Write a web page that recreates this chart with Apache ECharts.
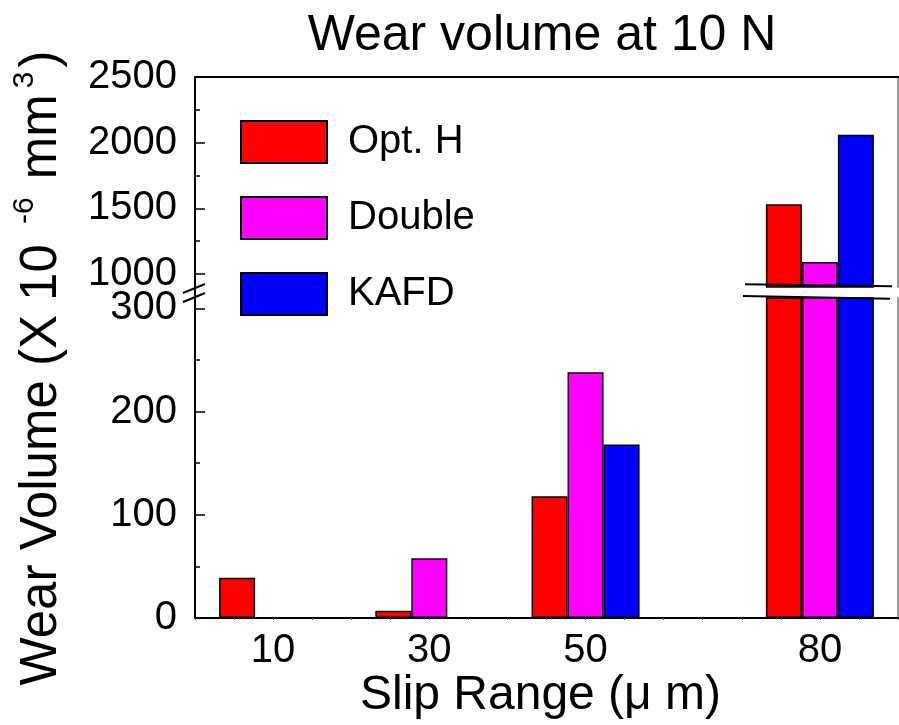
<!DOCTYPE html>
<html>
<head>
<meta charset="utf-8">
<script src="https://cdn.jsdelivr.net/npm/echarts@6/dist/echarts.min.js"></script>
<style>
  html, body { margin: 0; padding: 0; background: #fff; }
  #chart { width: 899px; height: 725px; }
</style>
</head>
<body>
<div id="chart"></div>
<script>
// ---- data ----
const slipRange = [10, 30, 50, 80];           // µm
const seriesNames = ['Opt. H', 'Double', 'KAFD'];
const optH   = [39, 7, 118, 1530];            // wear volume, 10^-6 mm^3
const double = [null, 58, 238, 1090];
const kafd   = [null, null, 168, 2060];

const xLabelValues   = [10, 30, 50, 80];
const lowerTickVals  = [0, 100, 200, 300];
const lowerMinorVals = [50, 150, 250];
const upperTickVals  = [1000, 1500, 2000, 2500];
const upperMinorVals = [1250, 1750, 2250];

// ---- style / layout ----
const FONT = "'Liberation Sans', Arial, Helvetica, sans-serif";
const colors = ['#ff0000', '#ff00ff', '#0000ff'];
const CH = 725, CW = 899;
const plotLeft = 195, plotRight = 898;
const upperTop = 77, upperBottom = 287;   // upper panel (broken axis top part)
const lowerTop = 298, lowerBottom = 618;  // lower panel
const X_RANGE = [0, 90];
const LOWER_RANGE = [0, 310];
const UPPER_RANGE = [900, 2500];

const values = [optH, double, kafd];

function pairs(vals, keep) {
  const out = [];
  vals.forEach((v, i) => { if (v != null && keep(v)) out.push([slipRange[i], v]); });
  return out;
}

const gridLower = { left: plotLeft, right: CW - plotRight, top: lowerTop, bottom: CH - lowerBottom };
const gridUpper = { left: plotLeft, right: CW - plotRight, top: upperTop, bottom: CH - upperBottom };

const black = '#000';
const plain = v => String(v);

function mainY(gridIndex, range, ticks) {
  return {
    type: 'value', gridIndex, min: range[0], max: range[1], position: 'left',
    axisLine: { show: true, lineStyle: { color: black, width: 2 } },
    axisTick: { show: true, inside: true, length: 10, customValues: ticks, lineStyle: { color: black, width: 1.5 } },
    axisLabel: { show: true, customValues: ticks, formatter: plain, margin: 18, color: black, fontSize: 40, fontFamily: FONT },
    splitLine: { show: false }
  };
}
function minorY(gridIndex, range, ticks) {
  return {
    type: 'value', gridIndex, min: range[0], max: range[1], position: 'left',
    axisLine: { show: false },
    axisTick: { show: true, inside: true, length: 5, customValues: ticks, lineStyle: { color: black, width: 1.5 } },
    axisLabel: { show: false },
    splitLine: { show: false }
  };
}
function rightY(gridIndex, range) {
  return {
    type: 'value', gridIndex, min: range[0], max: range[1], position: 'right',
    axisLine: { show: true, lineStyle: { color: '#777', width: 1.5 } },
    axisTick: { show: false }, axisLabel: { show: false }, splitLine: { show: false }
  };
}

const series = [];
seriesNames.forEach((name, k) => {
  const itemStyle = { color: colors[k], borderColor: black, borderWidth: 1.5 };
  series.push({
    name, type: 'bar', xAxisIndex: 0, yAxisIndex: 0,
    barWidth: 36, barGap: '0%', itemStyle, clip: true,
    data: pairs(values[k], () => true)
  });
  series.push({
    name, type: 'bar', xAxisIndex: 1, yAxisIndex: 3,
    barWidth: 36, barGap: '0%', itemStyle, clip: true,
    data: pairs(values[k], v => v > UPPER_RANGE[0])
  });
});

// break marks
const breakMid = (upperBottom + lowerTop) / 2;
const breakLineStyle = { stroke: black, lineWidth: 2 };
const graphic = [
  // left axis continues through the break
  { type: 'line', z: 100, shape: { x1: plotLeft, y1: upperBottom, x2: plotLeft, y2: lowerTop }, style: { stroke: black, lineWidth: 2 } },
  // double slash on the left axis
  { type: 'line', z: 100, shape: { x1: plotLeft - 12, y1: breakMid + 0.5, x2: plotLeft + 10, y2: breakMid - 8.5 }, style: breakLineStyle },
  { type: 'line', z: 100, shape: { x1: plotLeft - 12, y1: breakMid + 9.5, x2: plotLeft + 10, y2: breakMid + 0.5 }, style: breakLineStyle },
  // break lines across the tall group
  { type: 'line', z: 100, shape: { x1: 745, y1: upperBottom - 2.7, x2: 892, y2: upperBottom - 0.7 }, style: breakLineStyle },
  { type: 'line', z: 100, shape: { x1: 743, y1: lowerTop - 2, x2: 890, y2: lowerTop + 0.7 }, style: breakLineStyle },
  // y axis title
  {
    type: 'text', z: 100, x: 42, y: 368, rotation: Math.PI / 2,
    style: {
      text: '{n|Wear Volume (X 10 }{s|-6}{n| mm}{s|3}{n|)}',
      align: 'center', verticalAlign: 'middle',
      fill: black, font: '51px ' + FONT,
      rich: {
        n: { fontSize: 51, fontFamily: FONT, fill: black, verticalAlign: 'bottom', lineHeight: 51 },
        s: { fontSize: 30, fontFamily: FONT, fill: black, verticalAlign: 'bottom', lineHeight: 30, padding: [0, 4, 28, 6] }
      }
    }
  }
];

const option = {
  animation: false,
  backgroundColor: '#fff',
  textStyle: { fontFamily: FONT },
  title: {
    text: 'Wear volume at 10 N',
    left: 542, top: 11, padding: 0, textAlign: 'center',
    textStyle: { fontFamily: FONT, fontSize: 50, fontWeight: 'normal', color: black }
  },
  legend: {
    data: seriesNames,
    orient: 'vertical', left: 240, top: 120, padding: 0,
    itemWidth: 86, itemHeight: 42, itemGap: 32,
    icon: 'rect',
    textStyle: { fontFamily: FONT, fontSize: 40, color: black, padding: [0, 0, 0, 16] }
  },
  grid: [gridLower, gridUpper],
  xAxis: [
    {
      type: 'value', gridIndex: 0, min: X_RANGE[0], max: X_RANGE[1], interval: 5,
      axisLine: { show: true, onZero: false, lineStyle: { color: black, width: 2 } },
      axisTick: { show: true, inside: false, length: 2, lineStyle: { color: '#555', width: 1 } },
      axisLabel: { show: true, customValues: xLabelValues, margin: 13, color: black, fontSize: 40, fontFamily: FONT },
      splitLine: { show: false },
      name: 'Slip Range (\u03bc m)', nameLocation: 'middle', nameGap: 49,
      nameTextStyle: { fontFamily: FONT, fontSize: 48, color: black, padding: [0, 12, 0, 0] }
    },
    {
      type: 'value', gridIndex: 1, min: X_RANGE[0], max: X_RANGE[1], interval: 5, position: 'top',
      axisLine: { show: true, onZero: false, lineStyle: { color: black, width: 2 } },
      axisTick: { show: false }, axisLabel: { show: false }, splitLine: { show: false }
    }
  ],
  yAxis: [
    mainY(0, LOWER_RANGE, lowerTickVals),
    minorY(0, LOWER_RANGE, lowerMinorVals),
    rightY(0, LOWER_RANGE),
    mainY(1, UPPER_RANGE, upperTickVals),
    minorY(1, UPPER_RANGE, upperMinorVals),
    rightY(1, UPPER_RANGE)
  ],
  series,
  graphic
};

const chart = echarts.init(document.getElementById('chart'), null, { renderer: 'canvas' });
chart.setOption(option);
</script>
</body>
</html>
